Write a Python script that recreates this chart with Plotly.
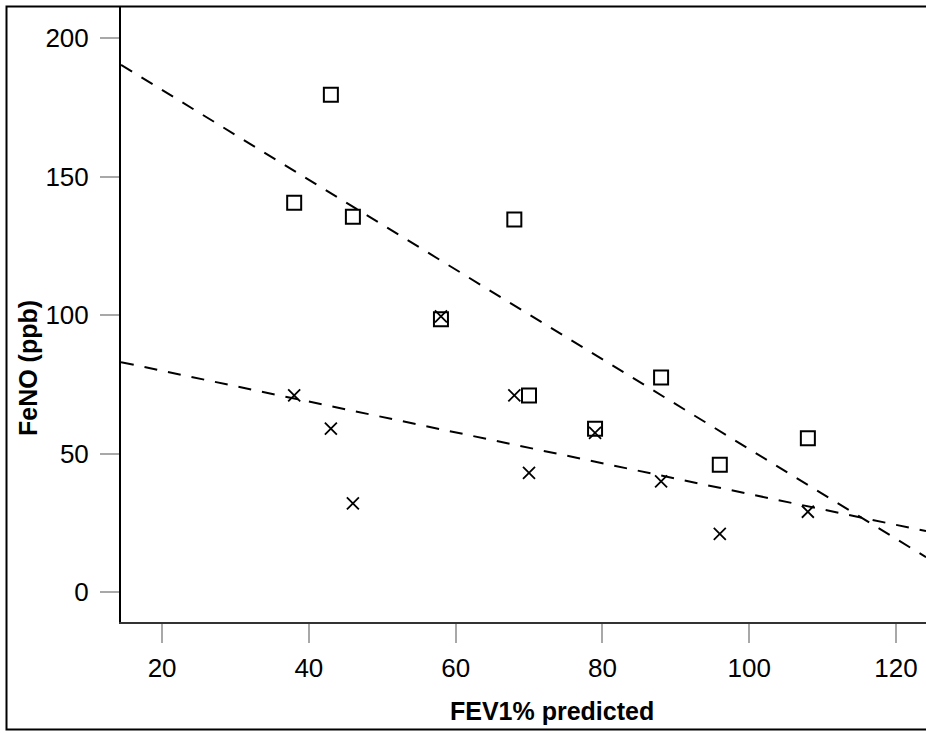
import plotly.graph_objects as go

# FEV1% predicted (x) and FeNO (ppb) for two groups
sq_x = [38, 43, 46, 58, 68, 70, 79, 88, 96, 108]
sq_y = [140.5, 179.5, 135.5, 98.5, 134.5, 71, 59, 77.5, 46, 55.5]
cr_x = [38, 43, 46, 58, 68, 70, 79, 88, 96, 108]
cr_y = [71, 59, 32, 99.5, 71, 43, 57.5, 40, 21, 29]

# fitted regression lines (read at the plot edges)
fit_x = [14.4, 124.1]
fit_sq = [190.3, 12.6]
fit_cr = [83.0, 22.0]

x_ticks = [20, 40, 60, 80, 100, 120]
y_ticks = [0, 50, 100, 150, 200]

W, H = 926, 733
ML, MR, MT, MB = 121, 0, 7, 111
PW, PH = W - ML - MR, H - MT - MB

def px(xpix):
    return (xpix - ML) / PW

def py(ypix):
    return 1 - (ypix - MT) / PH

fig = go.Figure()
fig.add_trace(go.Scatter(x=fit_x, y=fit_sq, mode="lines",
                         line=dict(color="black", width=2, dash="13px,11px"),
                         hoverinfo="skip", showlegend=False))
fig.add_trace(go.Scatter(x=fit_x, y=fit_cr, mode="lines",
                         line=dict(color="black", width=2, dash="13px,11px"),
                         hoverinfo="skip", showlegend=False))
fig.add_trace(go.Scatter(x=sq_x, y=sq_y, mode="markers",
                         marker=dict(symbol="square-open", size=14, color="black",
                                     line=dict(color="black", width=2)),
                         showlegend=False))
fig.add_trace(go.Scatter(x=cr_x, y=cr_y, mode="markers",
                         marker=dict(symbol="x-thin-open", size=12, color="black",
                                     line=dict(color="black", width=1.8)),
                         showlegend=False))

tickfont = dict(family="Liberation Sans, Arial, sans-serif", size=26, color="black")

fig.update_layout(
    width=W, height=H,
    margin=dict(l=ML, r=MR, t=MT, b=MB, pad=0),
    paper_bgcolor="white", plot_bgcolor="white",
    xaxis=dict(range=[14.4, 124.1], tickvals=x_ticks, ticktext=[str(v) for v in x_ticks],
               showgrid=False, zeroline=False, showline=True, linecolor="#333333", linewidth=2,
               ticks="outside", ticklen=19, tickwidth=2, tickcolor="#a8a8a8",
               tickfont=tickfont, ticklabelstandoff=3),
    yaxis=dict(range=[-10.8, 211.2], tickvals=y_ticks, ticktext=[str(v) for v in y_ticks],
               showgrid=False, zeroline=False, showline=True, linecolor="black", linewidth=2,
               ticks="outside", ticklen=19, tickwidth=2, tickcolor="#a8a8a8",
               tickfont=tickfont, ticklabelstandoff=6),
    annotations=[
        dict(text="<b>FEV1% predicted</b>", xref="paper", yref="paper",
             x=px(552), y=py(711), xanchor="center", yanchor="middle", showarrow=False,
             font=dict(family="Liberation Sans, Arial, sans-serif", size=25, color="black")),
        dict(text="<b>FeNO (ppb)</b>", xref="paper", yref="paper",
             x=px(28), y=py(368), xanchor="center", yanchor="middle", showarrow=False,
             textangle=-90,
             font=dict(family="Liberation Sans, Arial, sans-serif", size=25, color="black")),
    ],
    shapes=[
        dict(type="rect", xref="paper", yref="paper",
             x0=px(6.5), x1=px(935), y0=py(729.5), y1=py(6.5),
             line=dict(color="black", width=2), fillcolor="rgba(0,0,0,0)", layer="above"),
    ],
)

fig.write_html("out.html")
